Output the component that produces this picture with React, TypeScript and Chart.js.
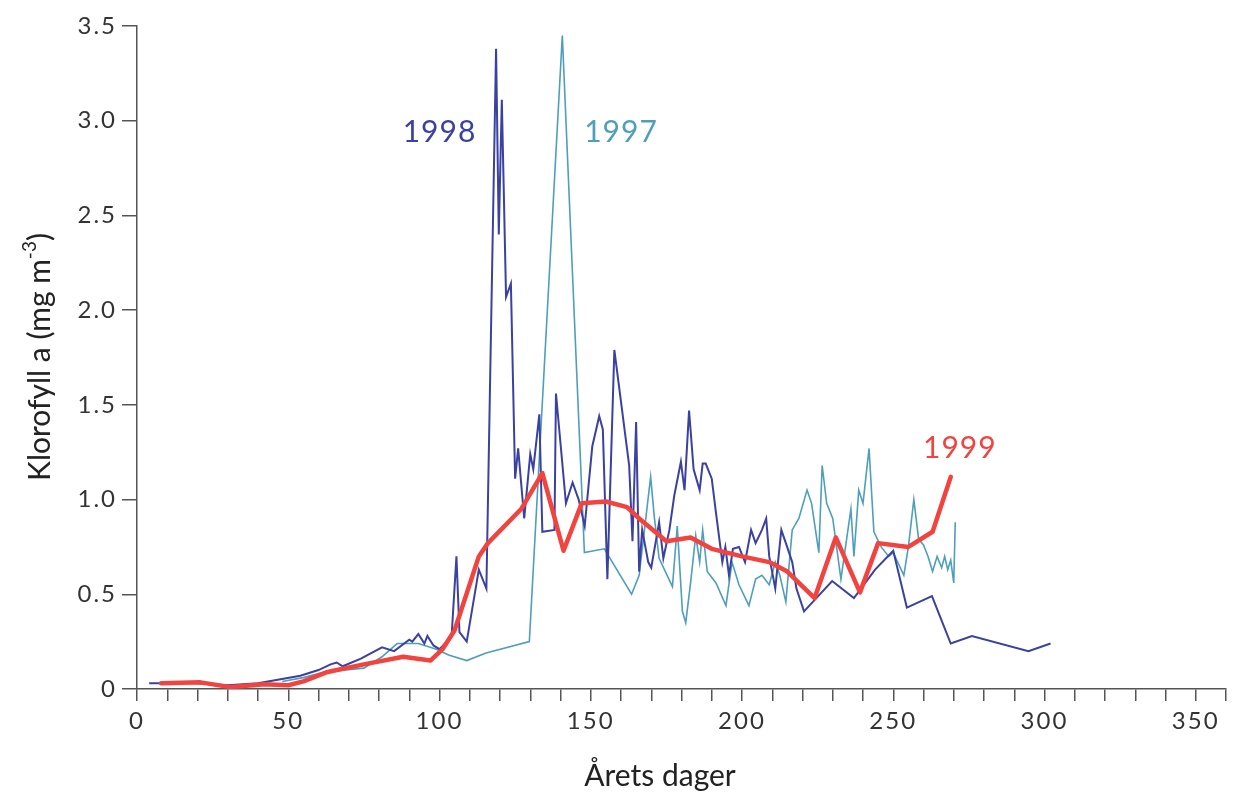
import { useEffect, useRef } from 'react';
import { Chart, registerables } from 'chart.js';

Chart.register(...registerables);

// ---- data (day of year, chlorophyll a mg m-3) ----
const days1998 = [4,10,20,30,40,47,54,60,64,66,68,74,81,85,90,91,93,95,96,98,100,103,104,105.6,106.6,109,113,115.5,118.7,119.6,120.6,122,123.6,125,126,128,130,131,133,134,138,138.5,141.8,144,146,148,150.5,152.8,154,155.5,157.8,162.7,163.8,165,166,167,169,170,172.6,174,176,177.6,179.8,181,182.5,184,186,187,188,190,191.4,193.5,194.5,195.7,197,199,201,203,204.5,206.6,208,209,211,213,214.5,216.6,218,220.5,229.8,237,244,250,254.5,262.8,269,276,294.7,302];
const chl1998 = [0.03,0.03,0.03,0.02,0.03,0.05,0.07,0.10,0.13,0.14,0.12,0.16,0.22,0.20,0.26,0.25,0.29,0.24,0.28,0.23,0.21,0.26,0.28,0.70,0.30,0.25,0.63,0.53,3.38,2.40,3.11,2.07,2.14,1.11,1.27,0.90,1.24,1.16,1.45,0.83,0.84,1.56,0.98,1.09,1.00,0.86,1.28,1.44,1.37,0.58,1.79,1.18,0.78,1.41,0.62,0.84,0.67,0.64,0.88,0.69,0.84,1.02,1.20,1.05,1.47,1.16,1.05,1.19,1.19,1.11,0.93,0.67,0.75,0.60,0.74,0.75,0.67,0.84,0.77,0.84,0.90,0.70,0.53,0.84,0.77,0.67,0.53,0.41,0.57,0.48,0.63,0.73,0.43,0.49,0.24,0.28,0.20,0.24];

const days1997 = [48,55,62,75,81,86,93,99,103,109,115.4,129.7,140.6,147.9,154.5,163.5,166,169.8,171,172.6,177,178.6,180.3,181.4,183,184.7,186,187,188.5,191.4,194.7,196.7,199,202.3,204.5,206.6,209,211,212.5,214.5,216.6,218.8,221.5,223,225.4,226.5,228,230,232.7,236,237,238.6,240,242,243.6,246,248.5,250,253.5,255,256.8,258.4,260,261.5,263,264.5,266,267,268,269,270,270.5];
const chl1997 = [0.04,0.06,0.09,0.11,0.17,0.24,0.24,0.21,0.18,0.15,0.19,0.25,3.45,0.72,0.74,0.50,0.60,1.12,0.91,0.69,0.54,0.86,0.41,0.35,0.56,0.81,0.67,0.84,0.62,0.56,0.44,0.67,0.55,0.44,0.58,0.60,0.55,0.67,0.60,0.46,0.84,0.90,1.05,0.98,0.72,1.18,0.98,0.90,0.58,0.95,0.70,1.05,0.98,1.27,0.83,0.75,0.70,0.72,0.60,0.75,1.00,0.79,0.76,0.70,0.62,0.70,0.64,0.70,0.63,0.68,0.56,0.88];

const days1999 = [8,21,31,42,50,55,63,75,88,97,101,105,113,116,127,134,141,147,155,162,166,175,183,190,200,209,215,224,231,239,245,255,263,269];
const chl1999 = [0.03,0.035,0.01,0.025,0.02,0.04,0.09,0.13,0.17,0.15,0.21,0.31,0.70,0.77,0.95,1.14,0.73,0.98,0.99,0.96,0.90,0.78,0.80,0.74,0.70,0.67,0.62,0.48,0.80,0.51,0.77,0.75,0.83,1.12];

const yTickLabels = ['0', '0.5', '1.0', '1.5', '2.0', '2.5', '3.0', '3.5'];
const xLabelEvery = 50;

const seriesNames = ['1998', '1997', '1999'];
const labelDays = [100, 160, 272];
const labelValues = [2.94, 2.94, 1.27];

const COL_1998 = '#3a41a0';
const COL_1997 = '#4e9fb9';
const COL_1999 = '#f2433f';
const labelColors = [COL_1998, COL_1997, COL_1999];

const FONT = 'Lato, "Open Sans", sans-serif';

const toPoints = (xs: number[], ys: number[]) => xs.map((x, i) => ({ x, y: ys[i] }));

const decorPlugin = {
  id: 'decor',
  beforeDraw(chart: any) {
    chart.ctx.letterSpacing = '2px';
  },
  afterDraw(chart: any) {
    const { ctx, scales } = chart;
    const xs = scales.x;
    const ys = scales.y;
    ctx.save();
    ctx.letterSpacing = '1px';
    ctx.textAlign = 'center';
    ctx.textBaseline = 'middle';
    ctx.font = `30px ${FONT}`;
    seriesNames.forEach((name, i) => {
      ctx.fillStyle = labelColors[i];
      ctx.fillText(name, xs.getPixelForValue(labelDays[i]), ys.getPixelForValue(labelValues[i]));
    });
    // x axis title
    ctx.letterSpacing = '0px';
    ctx.fillStyle = '#222';
    ctx.font = `30px ${FONT}`;
    ctx.fillText('Årets dager', 660, 776);
    // y axis title with superscript
    ctx.translate(40, 357);
    ctx.rotate(-Math.PI / 2);
    const main = 'Klorofyll a (mg m';
    const sup = '-3';
    const tail = ')';
    ctx.font = `30px ${FONT}`;
    const w1 = ctx.measureText(main).width;
    const w3 = ctx.measureText(tail).width;
    ctx.font = `19px ${FONT}`;
    const w2 = ctx.measureText(sup).width;
    let cx = -(w1 + w2 + w3) / 2;
    ctx.textAlign = 'left';
    ctx.font = `30px ${FONT}`;
    ctx.fillText(main, cx, 0);
    cx += w1;
    ctx.font = `19px ${FONT}`;
    ctx.fillText(sup, cx, -10);
    cx += w2;
    ctx.font = `30px ${FONT}`;
    ctx.fillText(tail, cx, 0);
    ctx.restore();
    chart.ctx.letterSpacing = '0px';
  },
};

export default function App() {
  const ref = useRef<HTMLCanvasElement | null>(null);
  useEffect(() => {
    if (!ref.current) return;
    const chart = new Chart(ref.current, {
      type: 'line',
      data: {
        datasets: [
          { label: '1999', data: toPoints(days1999, chl1999), borderColor: COL_1999, borderWidth: 4.5, pointRadius: 0, tension: 0, borderJoinStyle: 'round', borderCapStyle: 'round' },
          { label: '1998', data: toPoints(days1998, chl1998), borderColor: COL_1998, borderWidth: 2, pointRadius: 0, tension: 0 },
          { label: '1997', data: toPoints(days1997, chl1997), borderColor: COL_1997, borderWidth: 1.6, pointRadius: 0, tension: 0 },
        ],
      },
      options: {
        animation: false,
        responsive: false,
        maintainAspectRatio: false,
        layout: { padding: { top: 26, right: 8, left: 0, bottom: 0 } },
        plugins: { legend: { display: false }, tooltip: { enabled: false } },
        scales: {
          x: {
            type: 'linear',
            min: 0,
            max: 360,
            position: 'bottom',
            afterFit: (s: any) => { s.height = 111; },
            border: { display: true, color: '#555', width: 1.5 },
            grid: { display: true, drawOnChartArea: false, drawTicks: true, tickLength: 12, color: '#555', tickColor: '#555', lineWidth: 1.5, tickWidth: 1.5 },
            ticks: {
              stepSize: 10,
              autoSkip: false,
              maxRotation: 0,
              padding: 6,
              color: '#333',
              font: { family: FONT, size: 24 },
              callback: (v: any) => (Number(v) % xLabelEvery === 0 ? String(v) : ''),
            },
          },
          y: {
            type: 'linear',
            min: 0,
            max: 3.5,
            afterFit: (s: any) => { s.width = 137; },
            border: { display: true, color: '#555', width: 1.5 },
            grid: { display: true, drawOnChartArea: false, drawTicks: true, tickLength: 15, color: '#555', tickColor: '#555', lineWidth: 1.5, tickWidth: 1.5 },
            ticks: {
              stepSize: 0.5,
              padding: 5,
              color: '#333',
              font: { family: FONT, size: 24 },
              callback: (v: any) => yTickLabels[Math.round(Number(v) / 0.5)] ?? '',
            },
          },
        },
      },
      plugins: [decorPlugin],
    } as any);
    return () => chart.destroy();
  }, []);
  return (
    <div style={{ position: 'fixed', left: 0, top: 0, width: 1234, height: 800, background: '#fff' }}>
      <canvas ref={ref} width={1234} height={800} style={{ display: 'block', width: 1234, height: 800 }} />
    </div>
  );
}
